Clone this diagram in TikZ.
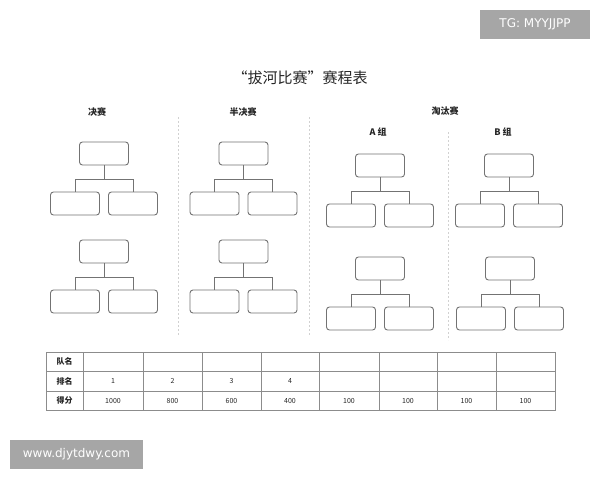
\documentclass[tikz,border=0pt]{standalone}
\usepackage{fontspec}
\newfontfamily\cjk{Noto Sans CJK SC}
\newfontfamily\wm{DejaVu Sans}
\begin{document}
\begin{tikzpicture}[x=1pt,y=-1pt,
  tbox/.style={draw=black!55,line width=0.9pt,rounded corners=3pt,minimum width=49pt,minimum height=23pt,inner sep=0pt},
  conn/.style={draw=black!55,line width=0.9pt},
  sep/.style={draw=black!18,line width=0.6pt,dash pattern=on 2pt off 2pt},
  hdr/.style={font=\cjk\bfseries\fontsize{9}{10}\selectfont,text=black!85},
  grid/.style={draw=black!45,line width=0.7pt},
  cell/.style={font=\cjk\fontsize{7}{8}\selectfont,text=black!85},
  rowh/.style={font=\cjk\bfseries\fontsize{8}{9}\selectfont,text=black!85},
  wmbox/.style={fill=black!35,text=white,font=\wm\fontsize{12}{13}\selectfont,inner sep=0pt}]
\useasboundingbox (0,0) rectangle (600,480);
\fill[white] (0,0) rectangle (600,480);
% watermarks
\node[wmbox,minimum width=110pt,minimum height=29pt] (wm1) at (535,24.5) {TG: MYYJJPP};
\node[wmbox,minimum width=133pt,minimum height=29pt] (wm2) at (76.5,454.5) {www.djytdwy.com};
% title
\node[font=\cjk\fontsize{15}{17}\selectfont,text=black!85] (title) at (300,78) {“拔河比赛”赛程表};
% headers
\node[hdr] (h1) at (97,112) {决赛};
\node[hdr] (h2) at (243,112) {半决赛};
\node[hdr] (h3) at (445,111) {淘汰赛};
\node[hdr] (h4) at (378,132) {A 组};
\node[hdr] (h5) at (503,132) {B 组};
% separators
\coordinate (s1a) at (178,117); \coordinate (s1b) at (178,336);
\coordinate (s2a) at (309,117); \coordinate (s2b) at (309,336);
\coordinate (s3a) at (448,132); \coordinate (s3b) at (448,340);
\draw[sep] (s1a) -- (s1b);
\draw[sep] (s2a) -- (s2b);
\draw[sep] (s3a) -- (s3b);
% trees
\foreach \n/\cx/\ty in {1/104/142, 2/104/240, 3/243.5/142, 4/243.5/240, 5/380/154, 6/380/257, 7/509/154, 8/510/257}{
  \node[tbox] (t\n) at (\cx,\ty+11.5) {};
  \node[tbox] (l\n) at (\cx-29,\ty+61.5) {};
  \node[tbox] (r\n) at (\cx+29,\ty+61.5) {};
  \coordinate (b\n) at (\cx,\ty+37);
  \draw[conn] (t\n.south) -- (b\n);
  \draw[conn] (l\n.north) -- (l\n.north |- b\n) -- (r\n.north |- b\n) -- (r\n.north);
}
% table
\draw[grid] (46,352) rectangle (555,410);
\foreach \y in {371,391}{\draw[grid] (46,\y) -- (555,\y);}
\foreach \x in {83,143,202,261,319,379,437,496}{\draw[grid] (\x,352) -- (\x,410);}
\node[rowh] (r1) at (64.5,361.5) {队名};
\node[rowh] (r2) at (64.5,381) {排名};
\node[rowh] (r3) at (64.5,400.5) {得分};
\foreach \i/\x/\v in {1/113/1, 2/172.5/2, 3/231.5/3, 4/290/4}{
  \node[cell] (rk\i) at (\x,381) {\v};
}
\foreach \i/\x/\v in {1/113/1000, 2/172.5/800, 3/231.5/600, 4/290/400, 5/349/100, 6/408/100, 7/466.5/100, 8/525.5/100}{
  \node[cell] (sc\i) at (\x,400.5) {\v};
}
\end{tikzpicture}
\end{document}
